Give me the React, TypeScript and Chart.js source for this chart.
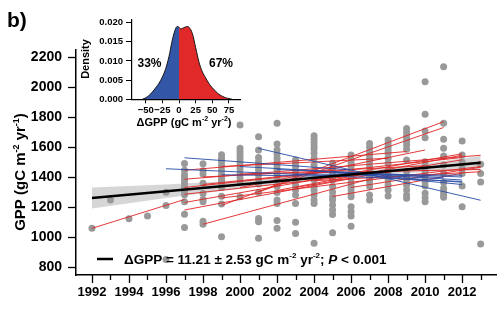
import React, { useEffect, useRef } from 'react';
import { Chart, registerables } from 'chart.js';
Chart.register(...registerables);

const FAM = '"Liberation Sans", Arial, Helvetica, sans-serif';

// ---- main panel data ----
const obsYears = [1992, 1993, 1994, 1995, 1996, 1997, 1998, 1999, 2000, 2001, 2002, 2003, 2004, 2005, 2006, 2007, 2008, 2009, 2010, 2011, 2012, 2013];
const obsValues = [
  [1058],
  [1247],
  [1122],
  [1140],
  [1298, 1210, 850],
  [1490, 1445, 1415, 1395, 1378, 1355, 1330, 1305, 1282, 1235, 1152, 1063],
  [1488, 1442, 1420, 1358, 1290, 1250, 1235, 1105, 1085],
  [1548, 1525, 1505, 1478, 1447, 1418, 1395, 1375, 1358, 1330, 1272, 1220, 1002],
  [1747, 1591, 1569, 1547, 1525, 1500, 1478, 1453, 1420, 1395, 1369, 1269],
  [1669, 1580, 1530, 1502, 1473, 1447, 1413, 1384, 1353, 1296, 1124, 1102, 991],
  [1758, 1620, 1580, 1553, 1525, 1500, 1473, 1447, 1413, 1380, 1338, 1296, 1247, 1224, 1110, 1058],
  [1513, 1491, 1469, 1440, 1413, 1380, 1347, 1313, 1280, 1224, 1098, 1024],
  [1675, 1653, 1631, 1609, 1587, 1558, 1525, 1480, 1436, 1380, 1336, 1313, 1280, 1247, 1224, 958],
  [1491, 1458, 1424, 1395, 1380, 1336, 1300, 1269, 1247, 1213, 1180, 1150, 1029],
  [1547, 1513, 1491, 1469, 1440, 1413, 1391, 1362, 1336, 1313, 1290, 1269, 1202, 1169, 1140, 1071],
  [1624, 1598, 1569, 1547, 1525, 1502, 1469, 1436, 1402, 1369, 1336, 1280, 1247],
  [1647, 1624, 1602, 1580, 1558, 1525, 1491, 1447, 1413, 1380, 1347, 1313, 1273],
  [1724, 1702, 1680, 1658, 1636, 1613, 1585, 1513, 1436, 1400, 1380, 1347, 1313, 1280, 1258],
  [2035, 1818, 1707, 1662, 1502, 1469, 1436, 1402, 1369, 1340, 1291, 1262, 1235],
  [2135, 1758, 1651, 1591, 1540, 1480, 1424, 1364, 1325, 1300, 1280, 1265],
  [1640, 1547, 1500, 1458, 1424, 1340, 1202],
  [1485, 1424, 1366, 953],
];

// site-level regressions: [startYear, startGPP, endYear, endGPP]
const redLines = [
  [1992, 1058, 1997, 1250],
  [1998, 1085, 2008, 1420],
  [1997, 1180, 2006, 1390],
  [1997, 1230, 2012, 1555],
  [1997, 1285, 2013, 1500],
  [1997, 1330, 2012, 1530],
  [1997, 1385, 2013, 1545],
  [1997, 1445, 2009, 1570],
  [1999, 1210, 2011, 1769],
  [2001, 1300, 2011, 1730],
  [2000, 1330, 2010, 1580],
  [2002, 1310, 2012, 1545],
  [1999, 1260, 2013, 1470],
  [2004, 1375, 2013, 1435],
  [2005, 1270, 2012, 1425],
  [1999, 1470, 2008, 1525],
  [2000, 1420, 2013, 1450],
  [1998, 1350, 2005, 1440],
  [2003, 1330, 2012, 1515],
  [2006, 1330, 2013, 1465],
  [1998, 1400, 2010, 1475],
];
const blueLines = [
  [1996, 1455, 2012, 1370],
  [1997, 1528, 2006, 1447],
  [2001, 1591, 2013, 1245],
  [1999, 1415, 2005, 1405],
  [2002, 1450, 2012, 1400],
  [2004, 1440, 2012, 1380],
  [2005, 1430, 2012, 1365],
  [2006, 1420, 2012, 1350],
  [2000, 1470, 2011, 1395],
  [2003, 1420, 2012, 1412],
];

const trendYears = [1992, 2013];
const trendValues = [1260, 1495];
const bandYears = [1992, 1996, 2000, 2004, 2008, 2013];
const bandLower = [1190, 1260, 1322, 1377, 1419, 1450];
const bandUpper = [1330, 1350, 1378, 1413, 1459, 1540];

const yTickValues = [800, 1000, 1200, 1400, 1600, 1800, 2000, 2200];
const xTickYears = [1992, 1993, 1994, 1995, 1996, 1997, 1998, 1999, 2000, 2001, 2002, 2003, 2004, 2005, 2006, 2007, 2008, 2009, 2010, 2011, 2012, 2013];
const xLabelYears = [1992, 1994, 1996, 1998, 2000, 2002, 2004, 2006, 2008, 2010, 2012];

// ---- inset density data ----
const densX = [-55, -50, -45, -40, -35, -30, -25, -20, -15, -10, -5, -2.5, 0, 2.5, 5, 10, 12.5, 15, 20, 25, 30, 35, 40, 45, 50, 55, 60, 65, 70, 75, 80];
const densY = [0, 0.0004, 0.001, 0.0019, 0.003, 0.0042, 0.0058, 0.008, 0.0112, 0.0155, 0.0185, 0.019, 0.0188, 0.0184, 0.0185, 0.0189, 0.019, 0.0188, 0.0172, 0.0135, 0.0097, 0.0072, 0.0056, 0.0041, 0.003, 0.0021, 0.0013, 0.0008, 0.0004, 0.0002, 0];
const densXTicks = [-50, -25, 0, 25, 50, 75];
const densYTicks = [0, 0.005, 0.01, 0.015, 0.02];

type Seg = { t: string; sup?: boolean; it?: boolean };

function drawRich(ctx: CanvasRenderingContext2D, segs: Seg[], x: number, y: number, size: number, align: 'left' | 'center') {
  const font = (s: Seg) => `${s.it ? 'italic ' : ''}bold ${s.sup ? Math.round(size * 0.62) : size}px ${FAM}`;
  let total = 0;
  for (const s of segs) { ctx.font = font(s); total += ctx.measureText(s.t).width; }
  let cx = align === 'center' ? x - total / 2 : x;
  ctx.textAlign = 'left';
  ctx.textBaseline = 'alphabetic';
  for (const s of segs) {
    ctx.font = font(s);
    ctx.fillText(s.t, cx, s.sup ? y - size * 0.42 : y);
    cx += ctx.measureText(s.t).width;
  }
}

export default function App() {
  const mainRef = useRef<HTMLCanvasElement | null>(null);
  const insetRef = useRef<HTMLCanvasElement | null>(null);

  useEffect(() => {
    Chart.defaults.font.family = FAM;
    Chart.defaults.color = '#000';

    const points = obsYears.flatMap((yr, i) => obsValues[i].map((v) => ({ x: yr, y: v })));
    const seg = (l: number[]) => [{ x: l[0], y: l[1] }, { x: l[2], y: l[3] }];
    const lineDs = (l: number[], color: string) => ({
      type: 'line' as const, data: seg(l), borderColor: color, borderWidth: 1, pointRadius: 0, showLine: true, fill: false,
    });

    const textPlugin = {
      id: 'mainText',
      afterDraw(chart: any) {
        const ctx: CanvasRenderingContext2D = chart.ctx;
        const xs = chart.scales.x;
        const ca = chart.chartArea;
        ctx.save();
        ctx.fillStyle = '#000';
        // x tick marks (major longer)
        ctx.strokeStyle = '#000';
        ctx.lineWidth = 1.3;
        for (const yr of xTickYears) {
          const px = Math.round(xs.getPixelForValue(yr)) + 0.5;
          const len = xLabelYears.includes(yr) ? 8 : 5;
          ctx.beginPath();
          ctx.moveTo(px, ca.bottom);
          ctx.lineTo(px, ca.bottom + len);
          ctx.stroke();
        }
        // panel letter
        ctx.font = `bold 21px ${FAM}`;
        ctx.textAlign = 'left';
        ctx.textBaseline = 'alphabetic';
        ctx.fillText('b)', 7, 27);
        // y title
        ctx.save();
        ctx.translate(25, 172);
        ctx.rotate(-Math.PI / 2);
        drawRich(ctx, [{ t: 'GPP (gC m' }, { t: '-2', sup: true }, { t: ' yr' }, { t: '-1', sup: true }, { t: ')' }], 0, 0, 15, 'center');
        ctx.restore();
        // legend
        ctx.strokeStyle = '#000';
        ctx.lineWidth = 2.5;
        ctx.beginPath();
        ctx.moveTo(97, 259);
        ctx.lineTo(113, 259);
        ctx.stroke();
        drawRich(ctx, [
          { t: 'ΔGPP = 11.21 ± 2.53 gC m' }, { t: '-2', sup: true }, { t: ' yr' }, { t: '-2', sup: true },
          { t: '; ' }, { t: 'P', it: true }, { t: ' < 0.001' },
        ], 124, 264, 13.5, 'left');
        ctx.restore();
      },
    };

    const main = new Chart(mainRef.current!, {
      type: 'scatter',
      data: {
        datasets: [
          {
            type: 'line', data: trendYears.map((x, i) => ({ x, y: trendValues[i] })),
            borderColor: '#000', borderWidth: 2.6, pointRadius: 0, showLine: true, fill: false,
          },
          ...blueLines.map((l) => lineDs(l, 'rgba(40,75,165,0.9)')),
          ...redLines.map((l) => lineDs(l, 'rgba(225,35,35,0.9)')),
          {
            type: 'scatter', data: points, backgroundColor: '#999999', borderWidth: 0, pointRadius: 3.5,
          },
          {
            type: 'line', data: bandYears.map((x, i) => ({ x, y: bandUpper[i] })),
            borderWidth: 0, borderColor: 'rgba(0,0,0,0)', pointRadius: 0, showLine: true,
            fill: '+1', backgroundColor: '#d6d6d6', cubicInterpolationMode: 'monotone',
          },
          {
            type: 'line', data: bandYears.map((x, i) => ({ x, y: bandLower[i] })),
            borderWidth: 0, borderColor: 'rgba(0,0,0,0)', pointRadius: 0, showLine: true, fill: false,
            cubicInterpolationMode: 'monotone',
          },
        ] as any,
      },
      options: {
        animation: false,
        responsive: false,
        layout: { padding: { top: 50, right: 3, left: 0, bottom: 0 } },
        plugins: { legend: { display: false }, tooltip: { enabled: false } },
        scales: {
          x: {
            type: 'linear', min: 1991.137, max: 2013.83,
            afterBuildTicks: (s: any) => { s.ticks = xTickYears.map((v) => ({ value: v })); },
            afterFit: (s: any) => { s.height = 43; },
            grid: { drawOnChartArea: false, tickLength: 8, tickColor: 'rgba(0,0,0,0)' },
            border: { color: '#000', width: 1.5 },
            ticks: {
              autoSkip: false, maxRotation: 0, padding: 2,
              font: { size: 13, weight: 'bold' }, color: '#000',
              callback: (v: any) => (xLabelYears.includes(Number(v)) ? String(v) : ''),
            },
          },
          y: {
            type: 'linear', min: 746.67, max: 2246.67,
            afterBuildTicks: (s: any) => { s.ticks = yTickValues.map((v) => ({ value: v })); },
            afterFit: (s: any) => { s.width = 76; },
            grid: { drawOnChartArea: false, tickLength: 8, tickColor: '#000', tickWidth: 1.3 },
            border: { color: '#000', width: 1.5 },
            ticks: { padding: 6, font: { size: 14, weight: 'bold' }, color: '#000', callback: (v: any) => String(v) },
          },
        },
      } as any,
      plugins: [textPlugin],
    });

    const insetText = {
      id: 'insetText',
      afterDraw(chart: any) {
        const ctx: CanvasRenderingContext2D = chart.ctx;
        ctx.save();
        ctx.fillStyle = '#000';
        ctx.font = `bold 12px ${FAM}`;
        ctx.textAlign = 'center';
        ctx.textBaseline = 'middle';
        ctx.fillText('33%', 71.5, 54);
        ctx.fillText('67%', 143, 54);
        ctx.save();
        ctx.translate(11, 49);
        ctx.rotate(-Math.PI / 2);
        ctx.font = `bold 11px ${FAM}`;
        ctx.textBaseline = 'alphabetic';
        ctx.fillText('Density', 0, 0);
        ctx.restore();
        drawRich(ctx, [{ t: 'ΔGPP (gC m' }, { t: '-2', sup: true }, { t: ' yr' }, { t: '-2', sup: true }, { t: ')' }], 106, 116, 11, 'center');
        ctx.restore();
      },
    };

    const blue = densX.map((x, i) => ({ x, y: densY[i] })).filter((p) => p.x <= 0);
    const red = densX.map((x, i) => ({ x, y: densY[i] })).filter((p) => p.x >= 0);

    const inset = new Chart(insetRef.current!, {
      type: 'line',
      data: {
        datasets: [
          { data: blue, borderColor: '#151515', borderWidth: 1, pointRadius: 0, fill: 'origin', backgroundColor: '#3456a6', cubicInterpolationMode: 'monotone' },
          { data: red, borderColor: '#151515', borderWidth: 1, pointRadius: 0, fill: 'origin', backgroundColor: '#e2292a', cubicInterpolationMode: 'monotone' },
        ] as any,
      },
      options: {
        animation: false,
        responsive: false,
        layout: { padding: { top: 10, right: 13, left: 0, bottom: 0 } },
        plugins: { legend: { display: false }, tooltip: { enabled: false } },
        scales: {
          x: {
            type: 'linear', min: -70.6, max: 91.6,
            afterBuildTicks: (s: any) => { s.ticks = densXTicks.map((v) => ({ value: v })); },
            afterFit: (s: any) => { s.height = 35.7; },
            grid: { drawOnChartArea: false, tickLength: 4, tickColor: '#000' },
            border: { color: '#000', width: 1.2 },
            ticks: {
              autoSkip: false, maxRotation: 0, padding: 1, font: { size: 9.5, weight: 'bold' }, color: '#000',
              callback: (v: any) => (Number(v) < 0 ? '\u2212' + Math.abs(Number(v)) : String(v)),
            },
          },
          y: {
            type: 'linear', min: 0, max: 0.0207,
            afterBuildTicks: (s: any) => { s.ticks = densYTicks.map((v) => ({ value: v })); },
            afterFit: (s: any) => { s.width = 54; },
            grid: { drawOnChartArea: false, tickLength: 6, tickColor: '#000' },
            border: { color: '#000', width: 1.2 },
            ticks: { padding: 3, font: { size: 9.5, weight: 'bold' }, color: '#000', callback: (v: any) => Number(v).toFixed(3) },
          },
        },
      } as any,
      plugins: [insetText],
    });

    return () => { main.destroy(); inset.destroy(); };
  }, []);

  return (
    <div style={{ position: 'absolute', left: 0, top: 0, width: 500, height: 318, background: '#fff' }}>
      <canvas ref={mainRef} width={500} height={318} style={{ position: 'absolute', left: 0, top: 0, width: 500, height: 318 }} />
      <canvas ref={insetRef} width={175} height={125} style={{ position: 'absolute', left: 78, top: 10, width: 175, height: 125 }} />
    </div>
  );
}
